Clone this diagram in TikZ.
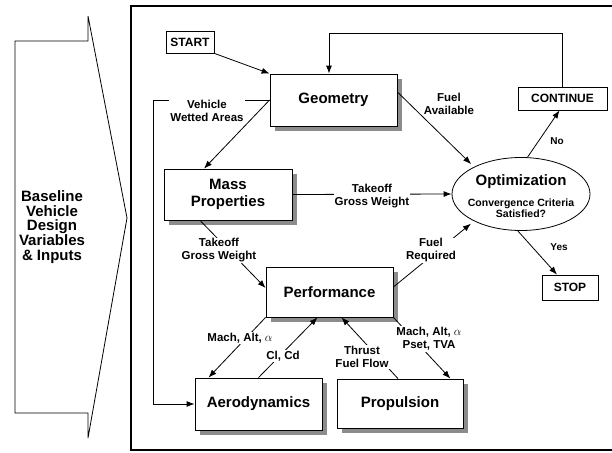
\documentclass[tikz,border=0pt]{standalone}
\usepackage{fontspec}
\setmainfont{Liberation Sans}
\usetikzlibrary{arrows.meta,shapes.geometric}
\begin{document}
\begin{tikzpicture}[x=1pt,y=-1pt,
  box/.style={draw, line width=0.8pt, fill=white, inner sep=0pt, align=center,
    font=\bfseries\fontsize{15}{16.5}\selectfont},
  shbox/.style={box},
  shade/.style={fill=black!45, draw=none},
  tbox/.style={draw, line width=0.8pt, fill=white, inner sep=0pt,
    font=\bfseries\fontsize{12}{13}\selectfont},
  lbl/.style={fill=white, inner sep=1pt, align=center,
    font=\bfseries\fontsize{11.5}{13}\selectfont},
  arr/.style={-{Latex[length=8pt,width=6pt]}, line width=0.8pt},
  ln/.style={line width=0.8pt}]

\useasboundingbox (0,0) rectangle (612,452);

% outer frame
\draw[line width=1.2pt] (614,6) -- (131,6) -- (131,450) -- (614,450);

% input arrow
\draw[ln] (15,41) -- (88,41) -- (88,16) -- (127,218) -- (88,438) -- (88,413) -- (15,413) -- cycle;
\node[align=center, font=\bfseries\fontsize{15}{14.8}\selectfont] (inp) at (52,227)
  {Baseline\\Vehicle\\Design\\Variables\\\& Inputs};

% drop shadows (drawn first, behind the boxes)
\fill[shade] (275,79) rectangle (402,131);
\fill[shade] (169,174) rectangle (297,225);
\fill[shade] (271,272) rectangle (398,322);
\fill[shade] (200,383) rectangle (327,435);
\fill[shade] (342,384) rectangle (468,433);

% nodes
\node[tbox, minimum width=48, minimum height=22] (start) at (190,42) {START};
\node[shbox, minimum width=127, minimum height=52] (geom) at (333.5,100) {Geometry};
\node[tbox, minimum width=89, minimum height=23] (cont) at (562.5,98.5) {CONTINUE};
\node[shbox, minimum width=128, minimum height=51] (mass) at (228,194.5) {Mass\\Properties};
\node[shbox, minimum width=127, minimum height=50] (perf) at (329.5,292) {Performance};
\node[draw, ellipse, line width=0.8pt, minimum width=138, minimum height=73, inner sep=0pt] (opt) at (521,194) {};
\node[font=\bfseries\fontsize{15}{16}\selectfont] (optt) at (521,182) {Optimization};
\node[align=center, font=\bfseries\fontsize{10.5}{10.5}\selectfont] (conv) at (521,208) {Convergence Criteria\\Satisfied?};
\node[tbox, minimum width=56, minimum height=25] (stop) at (570,287.5) {STOP};
\node[shbox, minimum width=127, minimum height=52] (aero) at (258.5,404) {Aerodynamics};
\node[shbox, minimum width=126, minimum height=49] (prop) at (400,403.5) {Propulsion};

% START -> Geometry
\draw[arr] (start.south east) -- (geom.north west);

% CONTINUE feedback
\coordinate (fb) at (329,33);
\draw[arr] (cont.north) |- (fb) -- (fb |- geom.north);

% Geometry -> Aerodynamics (wetted areas)
\coordinate (lb) at (153,100);
\draw[arr] (geom.west) -- (lb) |- (aero.west);
\node[lbl] (wet) at (207,111) {Vehicle\\Wetted Areas};
\draw[arr] (geom.west) -- ([xshift=-24pt]mass.north);

% Geometry -> Optimization
\draw[arr, shorten >=4pt] ([yshift=8pt]geom.east) -- (opt.150);
\node[lbl] (fa) at (449,104) {Fuel\\Available};

% Optimization -> CONTINUE / STOP
\draw[arr] (opt.80) -- ([xshift=-3pt]cont.south);
\node[lbl] (no) at (557,141) {\fontsize{10}{11}\selectfont No};
\draw[arr] (opt.-95) -- ([xshift=-13pt]stop.north);
\node[lbl] (yes) at (559,247) {\fontsize{10}{11}\selectfont Yes};

% Mass -> Optimization
\draw[arr] (mass.east) -- (opt.west);
\node[lbl] (tg1) at (372,196) {Takeoff\\Gross Weight};

% Mass -> Performance
\draw[arr] ([xshift=-28pt]mass.south) -- ([yshift=4pt]perf.west);
\node[lbl] (tg2) at (219,250.5) {Takeoff\\Gross Weight};

% Performance -> Optimization
\draw[arr, shorten >=4pt] ([yshift=5pt]perf.east) -- (opt.210);
\node[lbl] (fr) at (431,250.5) {Fuel\\Required};

% Performance -> Aerodynamics
\draw[arr] (perf.south west) -- ([xshift=-50pt]aero.north);
\node[lbl] (ma1) at (240,338) {Mach, Alt, $\alpha$};

% Aerodynamics -> Performance
\draw[arr] (aero.north) -- ([xshift=-12pt]perf.south);
\node[lbl] (clcd) at (283,356) {Cl, Cd};

% Propulsion -> Performance
\draw[arr] ([xshift=-2pt]prop.north) -- ([xshift=12pt]perf.south);
\node[lbl] (thr) at (362,357) {Thrust\\Fuel Flow};

% Performance -> Propulsion
\draw[arr] (perf.south east) -- ([xshift=-13pt]prop.north east);
\node[lbl] (ma2) at (429,339) {Mach, Alt, $\alpha$\\Pset, TVA};

\end{tikzpicture}
\end{document}
